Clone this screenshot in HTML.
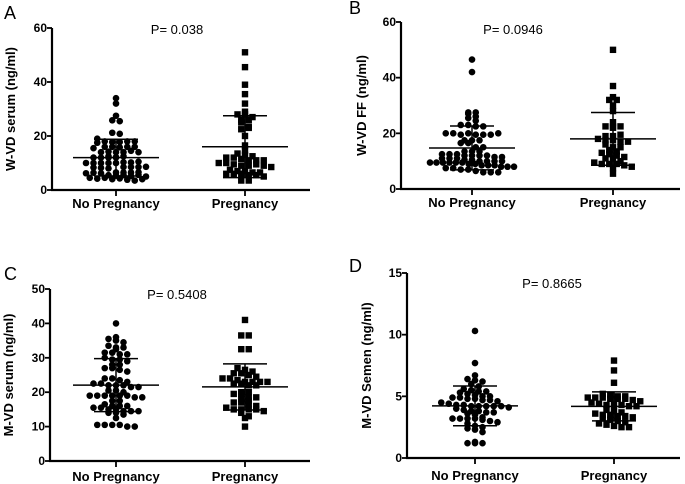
<!DOCTYPE html>
<html><head><meta charset="utf-8">
<style>
html,body{margin:0;padding:0;background:#fff;}
svg{display:block;font-family:"Liberation Sans",Arial,sans-serif;}
.tick{font-size:12px;font-weight:bold;}
.cat{font-size:13px;font-weight:bold;}
.yt{font-size:13px;font-weight:bold;}
.p{font-size:13px;}
.lt{font-size:18px;}
</style></head>
<body>
<svg id="chart" width="685" height="484" viewBox="0 0 685 484"></svg>
<script>
// ---- data ----
const categories = ["No Pregnancy","Pregnancy"];
const panelLetters = ["A","B","C","D"];
const panelTitles = ["W-VD serum (ng/ml)","W-VD FF (ng/ml)","M-VD serum (ng/ml)","M-VD Semen (ng/ml)"];
const pValues = ["P= 0.038","P= 0.0946","P= 0.5408","P= 0.8665"];
const yTicksA = [0,20,40,60];
const yTicksB = [0,20,40,60];
const yTicksC = [0,10,20,30,40,50];
const yTicksD = [0,5,10,15];
const aNoPreg = [34,32,27.5,25.8,25.5,21.2,20.8,19,18,17.8,17.8,17.5,18,18,16,16,15.8,16,15.5,16,14,14.2,14,14,14.5,14,12.5,12,12,12.2,12,12.5,12,10,10.3,10,10.2,10,10.5,10,10,8.5,8.3,8.5,8.2,8.5,8.6,8,6.5,6.2,6.5,6.4,6.5,6.6,6.2,5.5,5.3,5.5,5.2,5.6,5,4.5,4.2,4.5,4,4.3,3.8,3.5,4];
const aPreg = [51,45.5,39,35.5,32,29,28,28,27,26,26,25,23.5,22.5,23,20,16.5,14.5,13.5,13,12,12,11.5,11,11,12.5,11,10,10,9.5,9,9,9.5,9,8.5,7.5,7,7,6.5,6.5,6,6,6,5.5,5.5,5,3.5,3.5];
const bNoPreg = [46.5,42,27.5,27,27.5,25.5,26,24.5,23,23,22.5,22.5,20,20,19.5,20,19.5,19.5,19.5,20,17.5,17.5,17.5,16.5,16.5,15,15,13.5,13.5,13.5,12.5,12.5,12.5,12,12,12,12,11.5,11.5,11,11,11,10.5,10.5,10,10,10,10,9.5,9.5,9.5,9.5,9.5,9.5,9,9,8.5,8.5,8.5,8,8,8,7.5,7.5,7,7,6.5,6,6,6];
const bPreg = [50,37,33,32,32,30,28,24,22.5,22.5,22,22.5,19,19,19.5,18,17.5,17.5,17,17,16,15,15,14,13.5,13,12.5,12,11.5,11,11,10,9.5,9,9,9,8.5,8,7.5,5.5];
const cNoPreg = [40,36,35.5,35,34.5,33.5,33,33,32.5,31.5,31.5,31,31,30,29.5,29.5,29,28,28,27,27,26.5,26,24,24,23.5,23,22.5,22.5,22,22,22,21.5,21.5,20.5,20.5,20,19,19,19,19,19,19,18.5,18.5,17.5,17.5,16.5,16,16,16,15.5,15.5,15,15,14.5,14.5,14.5,14,14,13.5,12.5,10.5,10.5,10.5,10.5,10,10];
const cPreg = [41,36.5,36.5,32.5,32.5,27,26.5,26,25.5,25.5,25,24.5,24,24,23.5,23,23,23,23,22.5,22.5,22,22,20,20,19.5,19.5,18.5,18.5,18,17.5,17,17,16.5,16,15.5,15,15,15,15,14.5,14,13,12.5,10];
const dNoPreg = [10.3,7.7,6.7,6.4,6.3,6.2,6.0,5.8,5.6,5.5,5.4,5.4,5.3,5.2,5.1,5.0,5.0,4.9,4.9,4.8,4.8,4.7,4.7,4.6,4.5,4.4,4.3,4.3,4.2,4.2,4.2,4.2,4.2,4.1,4.0,3.9,3.8,3.8,3.7,3.7,3.6,3.5,3.3,3.2,3.2,3.2,3.2,3.1,3.0,2.9,2.8,2.6,2.5,2.4,2.3,2.1,1.3,1.2,1.2,1.2];
const dPreg = [7.9,7.1,6.1,5.2,5.1,5.0,5.0,4.9,4.9,4.9,4.8,4.8,4.8,4.7,4.6,4.5,4.4,4.3,4.3,4.3,4.2,4.2,3.9,3.8,3.7,3.6,3.5,3.5,3.4,3.4,3.3,3.2,3.1,3.0,2.9,2.8,2.7,2.6,2.5,2.5];

// ---- layout ----
const panels = [
 {ax:52, y0:190, y1:28, xEnd:310, c:[116,245], ymax:60, ticks:yTicksA, data:[aNoPreg,aPreg], lx:4, ly:19, px:177, py:34, tx:15, catY:208},
 {ax:401, y0:189, y1:22, xEnd:680, c:[472,613], ymax:60, ticks:yTicksB, data:[bNoPreg,bPreg], lx:349, ly:14, px:513, py:34, tx:366, catY:207},
 {ax:50, y0:461, y1:289, xEnd:310, c:[116,245], ymax:50, ticks:yTicksC, data:[cNoPreg,cPreg], lx:4, ly:280, px:177, py:299, tx:13, catY:481},
 {ax:407, y0:458, y1:273, xEnd:680, c:[475,614], ymax:15, ticks:yTicksD, data:[dNoPreg,dPreg], lx:349, ly:272, px:552, py:288, tx:371, catY:480}
];
const svg = document.getElementById('chart');
const NS = 'http://www.w3.org/2000/svg';
function mk(tag, attrs, parent){const e=document.createElementNS(NS,tag);for(const k in attrs)e.setAttribute(k,attrs[k]);parent.appendChild(e);return e;}

// row-based scatter (GraphPad style), width-limited
function rows(vals, yf, cx, rowH, sp, maxHalf){
  const bins={};
  vals.forEach(v=>{const k=Math.round(yf(v)/rowH);(bins[k]=bins[k]||[]).push(v);});
  const pts=[];
  Object.keys(bins).forEach(k=>{
    const arr=bins[k];const n=arr.length;
    const s=n>1?Math.min(sp,2*maxHalf/(n-1)):sp;
    arr.forEach((v,i)=>{pts.push({x:cx+(i-(n-1)/2)*s,y:yf(v),v});});
  });
  return pts;
}
function stats(a){const m=a.reduce((s,v)=>s+v,0)/a.length;const sd=Math.sqrt(a.reduce((s,v)=>s+(v-m)**2,0)/(a.length-1));return [m,sd];}

panels.forEach((P,pi)=>{
  const g=mk('g',{},svg);
  
  
  const yf=v=>P.y0-(v/P.ymax)*(P.y0-P.y1);
  const lt=mk('text',{x:P.lx,y:P.ly,class:'lt'},g);lt.textContent=panelLetters[pi];
  
  
  const pt=mk('text',{x:P.px,y:P.py,class:'p','text-anchor':'middle'},g);pt.textContent=pValues[pi];
  
  
  const my=(P.y0+P.y1)/2;
  const yt=mk('text',{x:P.tx,y:my,class:'yt','text-anchor':'middle',transform:`rotate(-90 ${P.tx} ${my})`},g);yt.textContent=panelTitles[pi];
  
  
  const ya=mk('line',{x1:P.ax,y1:P.y1,x2:P.ax,y2:P.y0+1,stroke:'#000','stroke-width':2.2},g);
  
  
  const xa=mk('line',{x1:P.ax-1,y1:P.y0,x2:P.xEnd,y2:P.y0,stroke:'#000','stroke-width':2.2},g);
  
  
  P.ticks.forEach(t=>{
    const y=yf(t);
    mk('line',{x1:P.ax-5,y1:y,x2:P.ax,y2:y,stroke:'#000','stroke-width':1.8},g);
    const tl=mk('text',{x:P.ax-5,y:y+4,class:'tick','text-anchor':'end'},g);tl.textContent=t;
    
    
  });
  categories.forEach((c,ci)=>{
    const cx=P.c[ci];
    mk('line',{x1:cx,y1:P.y0,x2:cx,y2:P.y0+6,stroke:'#000','stroke-width':1.8},g);
    const cl=mk('text',{x:cx,y:P.catY,class:'cat','text-anchor':'middle'},g);cl.textContent=c;
    
    
    const pts=rows(P.data[ci],yf,cx,5,7.5,42);
    pts.forEach(p=>{
      let m;
      if(ci===0){m=mk('circle',{cx:p.x,cy:p.y,r:3.3,fill:'#000'},g);}
      else{m=mk('rect',{x:p.x-3.2,y:p.y-3.2,width:6.4,height:6.4,fill:'#000'},g);}
      
      
    });
    const [mean,sd]=stats(P.data[ci]);
    const eg=mk('g',{stroke:'#000','stroke-width':1.5},g);
    
    
    mk('line',{x1:cx-43,y1:yf(mean),x2:cx+43,y2:yf(mean)},eg);
    mk('line',{x1:cx,y1:yf(mean+sd),x2:cx,y2:yf(Math.max(0,mean-sd))},eg);
    mk('line',{x1:cx-22,y1:yf(mean+sd),x2:cx+22,y2:yf(mean+sd)},eg);
    mk('line',{x1:cx-22,y1:yf(Math.max(0,mean-sd)),x2:cx+22,y2:yf(Math.max(0,mean-sd))},eg);
  });
});
</script>
</body></html>
